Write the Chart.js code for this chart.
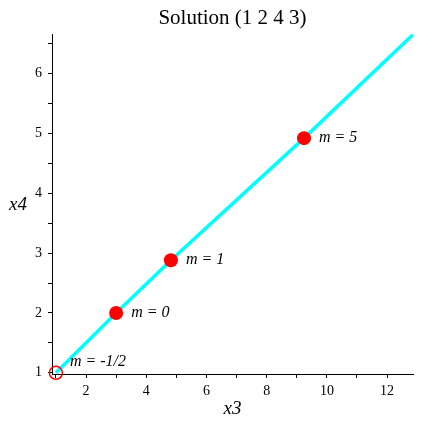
<!DOCTYPE html>
<html>
<head>
<meta charset="utf-8">
<script src="https://cdn.jsdelivr.net/npm/chart.js@4/dist/chart.umd.min.js"></script>
<style>
  html, body { margin: 0; padding: 0; background: #fff; }
  #wrap { width: 423px; height: 423px; }
</style>
</head>
<body>
<div id="wrap"><canvas id="myChart"></canvas></div>
<script>
// datos de la curva (x3, x4)
const lineaX = [1, 3, 4.82, 9.24, 12.86];
const lineaY = [1, 2, 2.88, 4.92, 6.65];
// puntos marcados
const puntosX = [3, 4.82, 9.24];
const puntosY = [2, 2.88, 4.92];
const puntosTexto = ["m = 0", "m = 1", "m = 5"];
// punto abierto
const abiertoX = [1];
const abiertoY = [1];
const abiertoTexto = ["m = -1/2"];
// ticks
const xTicks = [1, 2, 3, 4, 5, 6, 7, 8, 9, 10, 11, 12];
const yTicks = [1, 1.5, 2, 2.5, 3, 3.5, 4, 4.5, 5, 5.5, 6, 6.5];

const titulo = "Solution (1 2 4 3)";
const serif = "'Liberation Serif', 'DejaVu Serif', serif";

const aPuntos = (xs, ys) => xs.map((x, i) => ({ x: x, y: ys[i] }));

// plugin para título, etiquetas de ejes y textos de los puntos
const textos = {
  id: "textos",
  afterDraw(chart) {
    const ctx = chart.ctx;
    const a = chart.chartArea;
    const sx = chart.scales.x, sy = chart.scales.y;
    ctx.save();
    ctx.fillStyle = "#000";
    ctx.textBaseline = "middle";
    ctx.textAlign = "center";
    ctx.font = "21px " + serif;
    ctx.fillText(titulo, (a.left + a.right) / 2, 18);
    ctx.font = "italic 19px " + serif;
    ctx.fillText("x3", (a.left + a.right) / 2, 409);
    ctx.fillText("x4", 18, 205);
    ctx.textAlign = "left";
    ctx.font = "italic 16px " + serif;
    puntosX.forEach((x, i) => {
      ctx.fillText(puntosTexto[i], sx.getPixelForValue(x) + 15, sy.getPixelForValue(puntosY[i]));
    });
    abiertoX.forEach((x, i) => {
      ctx.fillText(abiertoTexto[i], sx.getPixelForValue(x) + 14, sy.getPixelForValue(abiertoY[i]) - 11);
    });
    ctx.restore();
  }
};

const ctx = document.getElementById("myChart").getContext("2d");
new Chart(ctx, {
  type: "scatter",
  data: {
    datasets: [
      {
        data: aPuntos(abiertoX, abiertoY),
        pointRadius: 6.5,
        pointBackgroundColor: "rgba(0,0,0,0)",
        pointBorderColor: "#ff0000",
        pointBorderWidth: 1.5,
        clip: false,
        order: 0,
      },
      {
        data: aPuntos(puntosX, puntosY),
        pointRadius: 7,
        pointBackgroundColor: "#ff0000",
        pointBorderColor: "#ff0000",
        pointBorderWidth: 0,
        clip: false,
        order: 1,
      },
      {
        data: aPuntos(lineaX, lineaY),
        showLine: true,
        borderColor: "#00ffff",
        borderWidth: 3.5,
        pointRadius: 0,
        tension: 0,
        order: 2,
      },
    ],
  },
  options: {
    responsive: true,
    maintainAspectRatio: false,
    animation: false,
    layout: { padding: { top: 34, right: 10, left: 0, bottom: 0 } },
    plugins: { legend: { display: false }, tooltip: { enabled: false } },
    scales: {
      x: {
        type: "linear",
        min: 0.87,
        max: 12.86,
        afterBuildTicks: (s) => { s.ticks = xTicks.map((v) => ({ value: v })); },
        afterFit: (s) => { s.height = 49; },
        grid: { drawOnChartArea: false, tickLength: 4, color: "#000", tickColor: "#000" },
        border: { display: true, color: "#000", width: 1 },
        ticks: {
          color: "#000",
          font: { family: serif, size: 14 },
          padding: 5,
          autoSkip: false,
          maxRotation: 0,
          callback: (v) => (v % 2 === 0 ? v : ""),
        },
      },
      y: {
        type: "linear",
        min: 0.98,
        max: 6.66,
        afterBuildTicks: (s) => { s.ticks = yTicks.map((v) => ({ value: v })); },
        afterFit: (s) => { s.width = 52; },
        grid: { drawOnChartArea: false, tickLength: 4, color: "#000", tickColor: "#000" },
        border: { display: true, color: "#000", width: 1 },
        ticks: {
          color: "#000",
          font: { family: serif, size: 14 },
          padding: 6,
          autoSkip: false,
          callback: (v) => (Number.isInteger(v) ? v : ""),
        },
      },
    },
  },
  plugins: [textos],
});
</script>
</body>
</html>
